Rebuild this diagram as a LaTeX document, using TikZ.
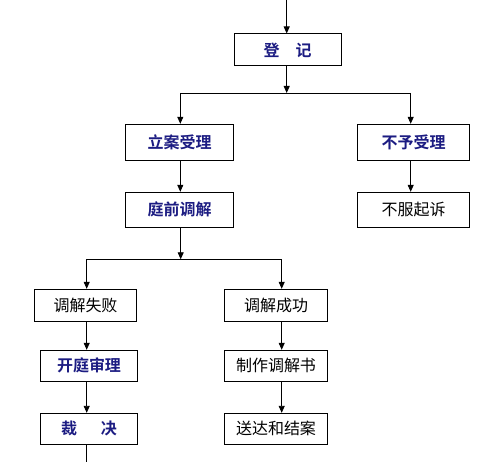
\documentclass[tikz,border=0pt]{standalone}
\usepackage{fontspec}
\newfontfamily\cjk{Noto Sans CJK SC}[BoldFont={Noto Sans CJK SC Bold}]
\usetikzlibrary{arrows.meta}
\definecolor{navy}{RGB}{28,28,130}
\begin{document}
\begin{tikzpicture}[x=1pt,y=-1pt,
  box/.style={draw,line width=1pt,rectangle,inner sep=0pt,font=\cjk\fontsize{16}{19}\selectfont},
  hot/.style={box,text=navy,font=\cjk\bfseries\fontsize{16}{19}\selectfont},
  arr/.style={line width=0.9pt,-{Triangle[width=6pt,length=7pt]}},
  ln/.style={line width=0.9pt}]
\useasboundingbox (0,0) rectangle (491,462);
\node[hot,minimum width=106.7pt,minimum height=32pt] (dj) at (287.7,50) {登\quad 记};
\node[hot,minimum width=107.6pt,minimum height=36pt] (la) at (179.5,142.3) {立案受理};
\node[hot,minimum width=111.6pt,minimum height=36pt] (by) at (413.5,142.3) {不予受理};
\node[hot,minimum width=107.6pt,minimum height=35pt] (tq) at (179.5,209.8) {庭前调解};
\node[box,minimum width=111.6pt,minimum height=35pt] (bf) at (413.5,209.8) {不服起诉};
\node[box,minimum width=102.4pt,minimum height=32pt] (sb) at (85.5,305.3) {调解失败};
\node[box,minimum width=103.4pt,minimum height=32pt] (cg) at (276,305.3) {调解成功};
\node[hot,minimum width=97.4pt,minimum height=31pt] (kt) at (89,365.8) {开庭审理};
\node[box,minimum width=103.4pt,minimum height=31pt] (zz) at (276,365.8) {制作调解书};
\node[hot,minimum width=97.4pt,minimum height=30.7pt] (cj) at (89,428.7) {裁\hspace{1.5em}决};
\node[box,minimum width=103.4pt,minimum height=30.7pt] (sd) at (276,428.7) {送达和结案};
% coordinates
\coordinate (top) at (286.7,0);
\coordinate (b1) at (286.7,93);
\coordinate (b1l) at (180.3,93);
\coordinate (b1r) at (410.7,93);
\coordinate (b2) at (180.7,259.3);
\coordinate (b2l) at (86.7,259.3);
\coordinate (b2r) at (281.7,259.3);
\coordinate (bot) at (86.7,462);
% connectors
\draw[arr] (top) -- (dj.north -| top);
\draw[arr] (dj.south -| b1) -- (b1);
\draw[ln] (b1l) -- (b1r);
\draw[arr] (b1l) -- (la.north -| b1l);
\draw[arr] (b1r) -- (by.north -| b1r);
\draw[arr] (la.south -| b1l) -- (tq.north -| b1l);
\draw[arr] (by.south -| b1r) -- (bf.north -| b1r);
\draw[arr] (tq.south -| b2) -- (b2);
\draw[ln] (b2l) -- (b2r);
\draw[arr] (b2l) -- (sb.north -| b2l);
\draw[arr] (b2r) -- (cg.north -| b2r);
\draw[arr] (sb.south -| b2l) -- (kt.north -| b2l);
\draw[arr] (cg.south -| b2r) -- (zz.north -| b2r);
\draw[arr] (kt.south -| b2l) -- (cj.north -| b2l);
\draw[arr] (zz.south -| b2r) -- (sd.north -| b2r);
\draw[ln] (cj.south -| bot) -- (bot);
\end{tikzpicture}
\end{document}
